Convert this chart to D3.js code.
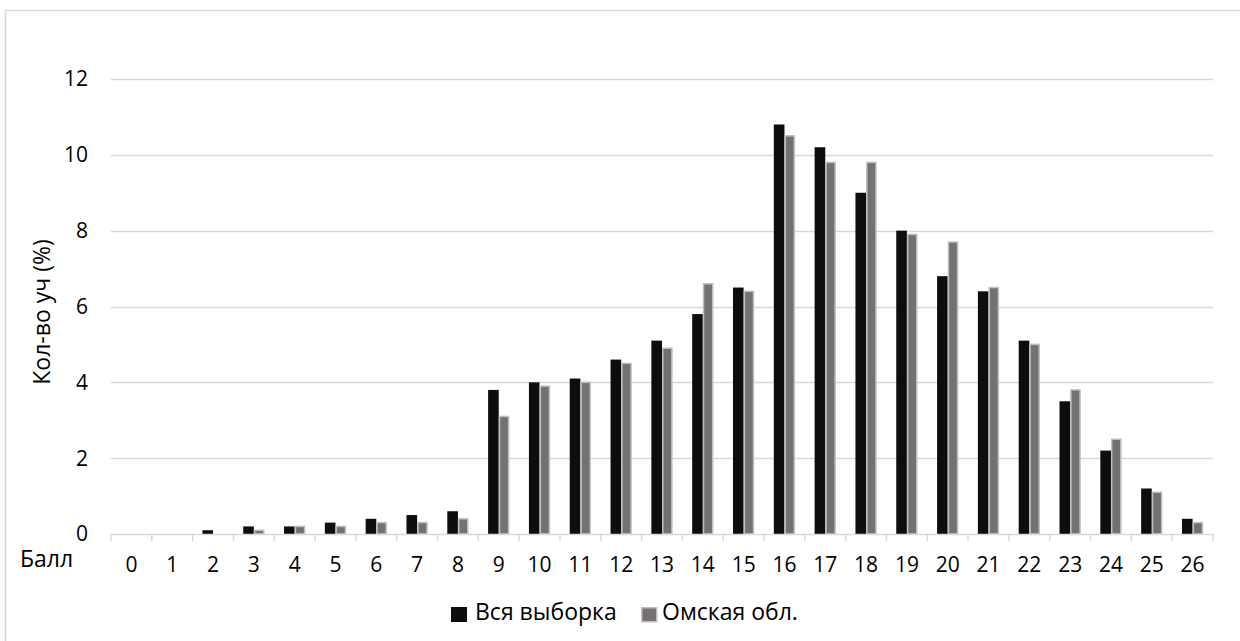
<!DOCTYPE html>
<html><head><meta charset="utf-8">
<script src="https://cdn.jsdelivr.net/npm/d3@7"></script>
<style>
html,body{margin:0;padding:0;background:#fff;}
svg{display:block;font-family:"Open Sans",sans-serif;}
</style></head>
<body><svg id="c" width="1240" height="641"></svg>
<script>
const categories = ["0","1","2","3","4","5","6","7","8","9","10","11","12","13","14","15","16","17","18","19","20","21","22","23","24","25","26"];
const allSample = [0,0,0.1,0.2,0.2,0.3,0.4,0.5,0.6,3.8,4.0,4.1,4.6,5.1,5.8,6.5,10.8,10.2,9.0,8.0,6.8,6.4,5.1,3.5,2.2,1.2,0.4];
const omsk = [0,0,0,0.1,0.2,0.2,0.3,0.3,0.4,3.1,3.9,4.0,4.5,4.9,6.6,6.4,10.5,9.8,9.8,7.9,7.7,6.5,5.0,3.8,2.5,1.1,0.3];
const seriesNames = ["Вся выборка","Омская обл."];
const yTicks = [0,2,4,6,8,10,12];

const FS = 21, FL = 23;
const svg = d3.select("#c");
// chart border
svg.append("rect").attr("x",5.5).attr("y",10.5).attr("width",1240).attr("height",640)
  .attr("fill","none").attr("stroke","#d9d9d9").attr("stroke-width",1.5);

const x0 = d3.scaleBand().domain(categories).range([111,1213]).paddingInner(0).paddingOuter(0);
const x1 = d3.scaleBand().domain([0,1]).range([0,x0.bandwidth()]).paddingInner(0).paddingOuter(0.92);
const y = d3.scaleLinear().domain([0,12]).range([534,79]);

// gridlines
svg.append("g").selectAll("line").data(yTicks.slice(1)).join("line")
  .attr("x1",111).attr("x2",1213).attr("y1",d=>Math.round(y(d))+0.5).attr("y2",d=>Math.round(y(d))+0.5)
  .attr("stroke","#d9d9d9").attr("stroke-width",1.5);

// y labels
svg.append("g").selectAll("text").data(yTicks).join("text")
  .attr("x",88).attr("y",d=>y(d)).attr("dy","0.35em").attr("text-anchor","end")
  .attr("font-size",FS).attr("fill","#000").text(d=>d);

// bars
const colors = ["#0d0d0d","#767171"];
const g = svg.append("g");
[allSample, omsk].forEach((vals,si)=>{
  g.selectAll(null).data(vals).join("rect")
    .attr("x",(d,i)=>x0(categories[i])+x1(si)+(si===1?0.75:0))
    .attr("y",d=>y(d))
    .attr("width",x1.bandwidth()-(si===1?1.5:0))
    .attr("height",d=>y(0)-y(d))
    .attr("fill",colors[si])
    .attr("stroke",si===1?"#bfbfbf":"none")
    .attr("stroke-width",si===1?1.5:0)
    .attr("display",d=>d>0?null:"none");
});

// x axis
const xAxis = d3.axisBottom(x0).tickSize(0).tickPadding(23);
const ax = svg.append("g").attr("transform","translate(0,534)").call(xAxis);
ax.select(".domain").attr("stroke","#d9d9d9").attr("stroke-width",1.5);
ax.selectAll("text").attr("font-size",FS).attr("font-family","Open Sans").attr("fill","#000");
// boundary ticks
svg.append("g").selectAll("line").data(d3.range(categories.length+1)).join("line")
  .attr("x1",i=>111+i*x0.step()).attr("x2",i=>111+i*x0.step())
  .attr("y1",534).attr("y2",541).attr("stroke","#d9d9d9").attr("stroke-width",1.5);

// axis titles
svg.append("text").attr("x",20).attr("y",567).attr("font-size",FL).text("Балл");
svg.append("text").attr("transform","translate(50,312) rotate(-90)").attr("text-anchor","middle")
  .attr("font-size",FL).text("Кол-во уч (%)");

// legend
const leg = svg.append("g");
const legX = [451,641];
const legTX = [475,662];
seriesNames.forEach((n,i)=>{
  leg.append("rect").attr("x",legX[i]+(i===1?0.75:0)).attr("y",607+(i===1?0.75:0))
    .attr("width",i===1?15:16).attr("height",i===1?14:15).attr("fill",colors[i])
    .attr("stroke",i===1?"#bfbfbf":"none").attr("stroke-width",1.5);
  leg.append("text").attr("x",legTX[i]).attr("y",620).attr("font-size",FL).text(n);
});
</script></body></html>
